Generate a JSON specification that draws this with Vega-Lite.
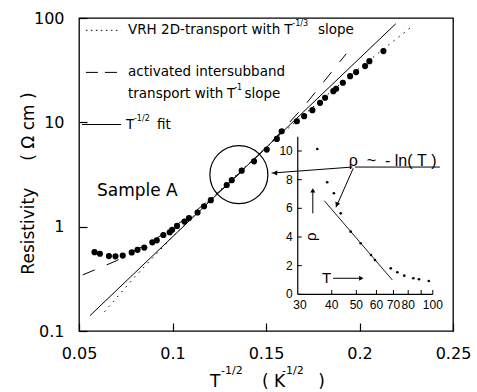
{
  "$schema": "https://vega.github.io/schema/vega-lite/v6.json",
  "width": 374,
  "height": 313,
  "autosize": {"type": "none"},
  "padding": {"left": 79, "top": 18, "right": 24, "bottom": 61},
  "background": "white",
  "config": {"view": {"stroke": "black", "strokeWidth": 1.3}, "axis": {"grid": false}},
  "datasets": {
    "sampleA": [
      {"x": 0.0583, "y": 0.570}, {"x": 0.0612, "y": 0.550}, {"x": 0.0660, "y": 0.522}, {"x": 0.0695, "y": 0.520},
      {"x": 0.0734, "y": 0.528}, {"x": 0.0782, "y": 0.567}, {"x": 0.0813, "y": 0.600}, {"x": 0.0849, "y": 0.630},
      {"x": 0.0892, "y": 0.708}, {"x": 0.0916, "y": 0.740}, {"x": 0.0951, "y": 0.832}, {"x": 0.0985, "y": 0.884},
      {"x": 0.0998, "y": 0.934}, {"x": 0.1024, "y": 1.016}, {"x": 0.1064, "y": 1.119}, {"x": 0.1088, "y": 1.21},
      {"x": 0.1134, "y": 1.366}, {"x": 0.1169, "y": 1.57}, {"x": 0.1205, "y": 1.795}, {"x": 0.1290, "y": 2.51},
      {"x": 0.1317, "y": 2.79}, {"x": 0.1370, "y": 3.44}, {"x": 0.1436, "y": 4.23}, {"x": 0.1504, "y": 5.48},
      {"x": 0.1558, "y": 6.94}, {"x": 0.1584, "y": 8.21}, {"x": 0.1665, "y": 10.25}, {"x": 0.1704, "y": 11.45},
      {"x": 0.1748, "y": 13.07}, {"x": 0.1789, "y": 15.39}, {"x": 0.1816, "y": 17.19}, {"x": 0.1860, "y": 19.9},
      {"x": 0.1875, "y": 20.98}, {"x": 0.1911, "y": 23.96}, {"x": 0.1950, "y": 27.7}, {"x": 0.1982, "y": 30.3},
      {"x": 0.2030, "y": 34.6}, {"x": 0.2053, "y": 38.6}, {"x": 0.2128, "y": 48.2}
    ],
    "vrh": [
      {"x": 0.0636, "y": 0.153}, {"x": 0.08, "y": 0.333}, {"x": 0.10, "y": 0.798}, {"x": 0.12, "y": 1.81},
      {"x": 0.14, "y": 3.93}, {"x": 0.16, "y": 8.22}, {"x": 0.18, "y": 16.7}, {"x": 0.20, "y": 33.1}, {"x": 0.2283, "y": 83.6}
    ],
    "act": [
      {"x": 0.052, "y": 0.345}, {"x": 0.07, "y": 0.471}, {"x": 0.09, "y": 0.740}, {"x": 0.11, "y": 1.30},
      {"x": 0.13, "y": 2.57}, {"x": 0.15, "y": 5.67}, {"x": 0.17, "y": 14.0}, {"x": 0.1929, "y": 45.4}
    ],
    "fit": [{"x": 0.0558, "y": 0.140}, {"x": 0.2194, "y": 88.1}],
    "inset": [
      {"T": 35.1, "rho": 10.14}, {"T": 38.4, "rho": 7.82}, {"T": 40.8, "rho": 7.05}, {"T": 43.4, "rho": 5.65},
      {"T": 47.5, "rho": 4.37}, {"T": 52.0, "rho": 3.56}, {"T": 57.1, "rho": 2.74}, {"T": 59.2, "rho": 2.39},
      {"T": 68.3, "rho": 1.81}, {"T": 72.5, "rho": 1.54}, {"T": 77.2, "rho": 1.30}, {"T": 83.8, "rho": 1.12},
      {"T": 88.2, "rho": 1.05}, {"T": 96.4, "rho": 0.93}
    ],
    "insetFit": [{"T": 37.4, "rho": 6.53}, {"T": 69.3, "rho": 1.0}],
    "insetXTicks": [{"t": 40}, {"t": 50}, {"t": 60}, {"t": 70}, {"t": 80}, {"t": 90}, {"t": 100}],
    "insetXLabels": [{"t": 30}, {"t": 40}, {"t": 50}, {"t": 60}, {"t": 70}, {"t": 80}, {"t": 100}],
    "insetYTicks": [{"v": 0}, {"v": 2}, {"v": 4}, {"v": 6}, {"v": 8}, {"v": 10}]
  },
  "resolve": {"scale": {"x": "independent", "y": "independent"}},
  "layer": [
    {
      "layer": [
        {
          "data": {"name": "vrh"},
          "mark": {"type": "line", "color": "black", "strokeWidth": 1, "strokeDash": [1.5, 5]},
          "encoding": {
            "x": {"field": "x", "type": "quantitative", "scale": {"domain": [0.05, 0.25], "nice": false, "zero": false},
              "axis": {"values": [0.05, 0.1, 0.15, 0.2, 0.25], "format": "~g", "title": null, "domain": false,
                "labelFont": "DejaVu Sans", "labelFontSize": 16, "labelColor": "black", "labelFlush": false, "labelOverlap": false,
                "tickColor": "black", "tickSize": -8, "tickWidth": 1.2, "labelPadding": 22}},
            "y": {"field": "y", "type": "quantitative", "scale": {"type": "log", "domain": [0.1, 100], "nice": false},
              "axis": {"values": [0.1, 1, 10, 100], "format": "~g", "domain": false,
                "labelFont": "DejaVu Sans", "labelFontSize": 16, "labelColor": "black", "labelFlush": false, "labelOverlap": false,
                "tickColor": "black", "tickSize": -8, "tickWidth": 1.2, "labelPadding": 23,
                "title": "Resistivity\u00a0\u00a0\u00a0\u00a0\u00a0(\u00a0Ω\u00a0cm\u00a0)", "titleFont": "DejaVu Sans", "titleFontSize": 17,
                "titleFontWeight": "normal", "titleColor": "black", "titleAngle": 270, "titleBaseline": "alphabetic",
                "titleAlign": "center", "titleX": -46, "titleY": 165}}
          }
        },
        {
          "data": {"name": "act"},
          "mark": {"type": "line", "color": "black", "strokeWidth": 1, "strokeDash": [13, 13]},
          "encoding": {"x": {"field": "x", "type": "quantitative"}, "y": {"field": "y", "type": "quantitative"}}
        },
        {
          "data": {"name": "fit"},
          "mark": {"type": "line", "color": "black", "strokeWidth": 1},
          "encoding": {"x": {"field": "x", "type": "quantitative"}, "y": {"field": "y", "type": "quantitative"}}
        },
        {
          "data": {"name": "sampleA"},
          "mark": {"type": "point", "shape": "circle", "filled": true, "color": "black", "size": 38, "opacity": 1},
          "encoding": {"x": {"field": "x", "type": "quantitative"}, "y": {"field": "y", "type": "quantitative"}}
        },
        {
          "data": {"values": [{}]},
          "mark": {"type": "point", "shape": "circle", "filled": false, "stroke": "black", "strokeWidth": 1.2, "size": 3364, "opacity": 1},
          "encoding": {"x": {"datum": 0.1355}, "y": {"datum": 3.15}}
        },
        {
          "data": {"values": [{}]},
          "mark": {"type": "rule", "color": "black", "strokeWidth": 1, "strokeDash": [1.5, 3.5]},
          "encoding": {"x": {"datum": 0.0537}, "x2": {"datum": 0.0725}, "y": {"datum": 76.2}}
        },
        {
          "data": {"values": [{}]},
          "mark": {"type": "rule", "color": "black", "strokeWidth": 1, "strokeDash": [12, 7]},
          "encoding": {"x": {"datum": 0.0537}, "x2": {"datum": 0.0725}, "y": {"datum": 30.1}}
        },
        {
          "data": {"values": [{}]},
          "mark": {"type": "rule", "color": "black", "strokeWidth": 1},
          "encoding": {"x": {"datum": 0.0516}, "x2": {"datum": 0.0725}, "y": {"datum": 9.53}}
        },
        {
          "data": {"values": [
            {"t": "VRH 2D-transport with", "x": 0.0762, "y": 76.2},
            {"t": "activated intersubband", "x": 0.0762, "y": 30.1},
            {"t": "transport with", "x": 0.0762, "y": 18.5},
            {"t": "T", "x": 0.1598, "y": 76.2}, {"t": "slope", "x": 0.1778, "y": 76.2},
            {"t": "T", "x": 0.1292, "y": 18.5}, {"t": "slope", "x": 0.1385, "y": 18.5},
            {"t": "T", "x": 0.0751, "y": 9.53}, {"t": "fit", "x": 0.0917, "y": 9.53}
          ]},
          "mark": {"type": "text", "font": "DejaVu Sans", "fontSize": 13.5, "align": "left", "baseline": "middle", "color": "black"},
          "encoding": {"x": {"field": "x", "type": "quantitative"}, "y": {"field": "y", "type": "quantitative"}, "text": {"field": "t"}}
        },
        {
          "data": {"values": [
            {"t": "-1/3", "x": 0.1641, "y": 87.0}, {"t": "-1", "x": 0.1330, "y": 21.1}, {"t": "-1/2", "x": 0.0794, "y": 10.88}
          ]},
          "mark": {"type": "text", "font": "DejaVu Sans", "fontSize": 8, "align": "left", "baseline": "middle", "color": "black"},
          "encoding": {"x": {"field": "x", "type": "quantitative"}, "y": {"field": "y", "type": "quantitative"}, "text": {"field": "t"}}
        },
        {
          "data": {"values": [{"t": "Sample A", "x": 0.0596, "y": 2.21}]},
          "mark": {"type": "text", "font": "DejaVu Sans", "fontSize": 17, "align": "left", "baseline": "middle", "color": "black"},
          "encoding": {"x": {"field": "x", "type": "quantitative"}, "y": {"field": "y", "type": "quantitative"}, "text": {"field": "t"}}
        },
        {
          "data": {"values": [
            {"t": "T", "x": 0.1201, "y": 0.02897}, {"t": "(\u00a0K", "x": 0.1479, "y": 0.02897}, {"t": ")", "x": 0.1779, "y": 0.02897}
          ]},
          "mark": {"type": "text", "font": "DejaVu Sans", "fontSize": 17, "align": "left", "baseline": "alphabetic", "color": "black"},
          "encoding": {"x": {"field": "x", "type": "quantitative"}, "y": {"field": "y", "type": "quantitative"}, "text": {"field": "t"}}
        },
        {
          "data": {"values": [
            {"t": "-1/2", "x": 0.1260, "y": 0.03863}, {"t": "-1/2", "x": 0.1586, "y": 0.03863}
          ]},
          "mark": {"type": "text", "font": "DejaVu Sans", "fontSize": 11, "align": "left", "baseline": "alphabetic", "color": "black"},
          "encoding": {"x": {"field": "x", "type": "quantitative"}, "y": {"field": "y", "type": "quantitative"}, "text": {"field": "t"}}
        }
      ]
    },
    {
      "layer": [
        {
          "data": {"name": "inset"},
          "mark": {"type": "point", "shape": "circle", "filled": true, "color": "black", "size": 7, "opacity": 1},
          "encoding": {
            "x": {"field": "T", "type": "quantitative", "scale": {"type": "log", "domain": [4.047, 120.1], "nice": false}, "axis": null},
            "y": {"field": "rho", "type": "quantitative", "scale": {"domain": [-2.56, 19.28], "nice": false, "zero": false}, "axis": null}
          }
        },
        {
          "data": {"name": "insetFit"},
          "mark": {"type": "line", "color": "black", "strokeWidth": 0.9},
          "encoding": {"x": {"field": "T", "type": "quantitative"}, "y": {"field": "rho", "type": "quantitative"}}
        },
        {
          "data": {"values": [{}]},
          "mark": {"type": "rule", "color": "black", "strokeWidth": 1.2},
          "encoding": {"x": {"datum": 29.4}, "x2": {"datum": 100}, "y": {"datum": 0}}
        },
        {
          "data": {"values": [{}]},
          "mark": {"type": "rule", "color": "black", "strokeWidth": 1.2},
          "encoding": {"x": {"datum": 29.4}, "y": {"datum": 0}, "y2": {"datum": 11}}
        },
        {
          "data": {"name": "insetXTicks"},
          "mark": {"type": "rule", "color": "black", "strokeWidth": 1},
          "encoding": {"x": {"field": "t", "type": "quantitative"}, "y": {"datum": 0}, "y2": {"datum": 0.3}}
        },
        {
          "data": {"name": "insetYTicks"},
          "mark": {"type": "rule", "color": "black", "strokeWidth": 1},
          "encoding": {"x": {"datum": 29.4}, "x2": {"datum": 30.5}, "y": {"field": "v", "type": "quantitative"}}
        },
        {
          "data": {"name": "insetXLabels"},
          "mark": {"type": "text", "font": "Liberation Sans", "fontSize": 12, "align": "center", "baseline": "top", "dy": 6, "color": "black"},
          "encoding": {"x": {"field": "t", "type": "quantitative"}, "y": {"datum": 0}, "text": {"field": "t", "type": "quantitative"}}
        },
        {
          "data": {"name": "insetYTicks"},
          "mark": {"type": "text", "font": "Liberation Sans", "fontSize": 12, "align": "right", "baseline": "middle", "dx": -5, "color": "black"},
          "encoding": {"x": {"datum": 29.4}, "y": {"field": "v", "type": "quantitative"}, "text": {"field": "v", "type": "quantitative"}}
        },
        {
          "data": {"values": [{}]},
          "mark": {"type": "rule", "color": "black", "strokeWidth": 1},
          "encoding": {"x": {"datum": 23.2}, "y": {"datum": 8.46}, "x2": {"datum": 48.2}, "y2": {"datum": 8.88}}
        },
        {
          "data": {"values": [{}]},
          "mark": {"type": "point", "shape": "triangle-left", "filled": true, "color": "black", "size": 28, "opacity": 1},
          "encoding": {"x": {"datum": 23.9}, "y": {"datum": 8.47}}
        },
        {
          "data": {"values": [{}]},
          "mark": {"type": "rule", "color": "black", "strokeWidth": 1},
          "encoding": {"x": {"datum": 49.4}, "y": {"datum": 8.88}, "x2": {"datum": 106.6}, "y2": {"datum": 8.88}}
        },
        {
          "data": {"values": [{"t": "ρ\u00a0\u00a0~\u00a0\u00a0-\u00a0ln(\u00a0T\u00a0)"}]},
          "mark": {"type": "text", "font": "Liberation Sans", "fontSize": 16, "align": "left", "baseline": "alphabetic", "color": "black"},
          "encoding": {"x": {"datum": 46.7}, "y": {"datum": 8.95}, "text": {"field": "t"}}
        },
        {
          "data": {"values": [{}]},
          "mark": {"type": "rule", "color": "black", "strokeWidth": 1},
          "encoding": {"x": {"datum": 48.6}, "y": {"datum": 8.79}, "x2": {"datum": 41.6}, "y2": {"datum": 6.07}}
        },
        {
          "data": {"values": [{}]},
          "mark": {"type": "point", "shape": "triangle-up", "filled": true, "color": "black", "size": 28, "opacity": 1, "angle": 204},
          "encoding": {"x": {"datum": 41.9}, "y": {"datum": 6.25}}
        },
        {
          "data": {"values": [{}]},
          "mark": {"type": "rule", "color": "black", "strokeWidth": 1},
          "encoding": {"x": {"datum": 33.7}, "y": {"datum": 5.65}, "y2": {"datum": 7.3}}
        },
        {
          "data": {"values": [{}]},
          "mark": {"type": "point", "shape": "triangle-up", "filled": true, "color": "black", "size": 25, "opacity": 1},
          "encoding": {"x": {"datum": 33.7}, "y": {"datum": 7.25}}
        },
        {
          "data": {"values": [{"t": "ρ"}]},
          "mark": {"type": "text", "font": "Liberation Sans", "fontSize": 15, "align": "center", "baseline": "middle", "angle": 270, "color": "black"},
          "encoding": {"x": {"datum": 33.2}, "y": {"datum": 4.02}, "text": {"field": "t"}}
        },
        {
          "data": {"values": [{"t": "T"}]},
          "mark": {"type": "text", "font": "Liberation Sans", "fontSize": 15, "align": "center", "baseline": "middle", "color": "black"},
          "encoding": {"x": {"datum": 38.2}, "y": {"datum": 1.12}, "text": {"field": "t"}}
        },
        {
          "data": {"values": [{}]},
          "mark": {"type": "rule", "color": "black", "strokeWidth": 1},
          "encoding": {"x": {"datum": 40.5}, "x2": {"datum": 52.5}, "y": {"datum": 1.12}}
        },
        {
          "data": {"values": [{}]},
          "mark": {"type": "point", "shape": "triangle-right", "filled": true, "color": "black", "size": 25, "opacity": 1},
          "encoding": {"x": {"datum": 52.3}, "y": {"datum": 1.12}}
        }
      ]
    }
  ]
}
